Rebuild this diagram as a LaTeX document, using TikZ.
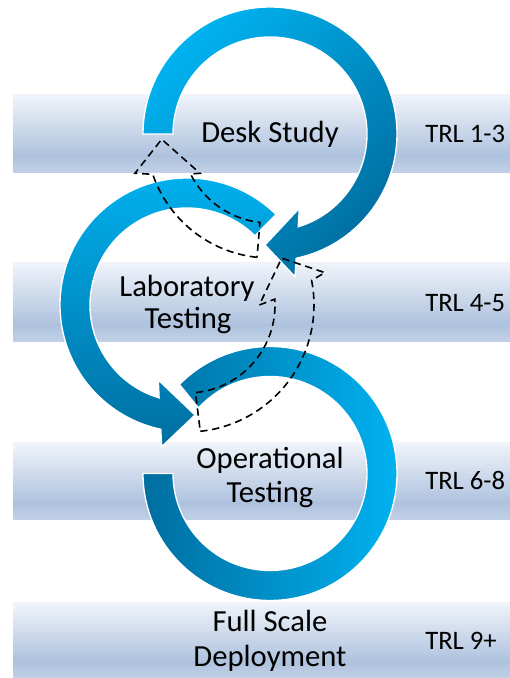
\documentclass[tikz,border=0pt]{standalone}
\usepackage{fontspec}
\setmainfont{Carlito}
\usetikzlibrary{calc}
\definecolor{cl}{RGB}{0,178,240}
\definecolor{cd}{RGB}{0,110,160}
\definecolor{bandtop}{RGB}{240,244,250}
\definecolor{banddark}{RGB}{174,194,222}
\definecolor{bandbot}{RGB}{194,209,231}
\pgfdeclareverticalshading{bandshade}{100bp}{color(0bp)=(bandbot); color(25bp)=(bandbot); color(36bp)=(banddark); color(75bp)=(bandtop); color(100bp)=(bandtop)}
\tikzset{
  band/.style={shading=bandshade, draw=none},
  ring/.style={draw=white, line width=1pt},
  ghost/.style={draw=black, line width=1.2pt, dash pattern=on 5.5pt off 3.5pt, fill=none},
  stage/.style={font=\fontsize{23}{25}\selectfont, inner sep=0pt, anchor=base},
  trl/.style={font=\fontsize{20}{22}\selectfont, inner sep=0pt, anchor=base west}
}
\begin{document}
\begin{tikzpicture}[x=0.75pt, y=0.75pt]
\useasboundingbox (0,0) rectangle (510,678);
% bands
\shade[band] (13,505) rectangle (510,583);
\shade[band] (13,336) rectangle (510,415);
\shade[band] (13,158) rectangle (510,235);
\shade[band] (13,0) rectangle (510,75);
% centres
\coordinate (C1) at (270,544);
\coordinate (C2) at (187,373);
\coordinate (C3) at (270,204.5);
% circle 1
\shadedraw[ring, top color=cl, bottom color=cd, shading angle=45]
  ([shift={(180:127)}]C1) arc[start angle=180, end angle=-78.1, radius=127]
  -- (295,401.3) -- (265,433) -- (299.3,469.7)
  -- ([shift={(-73.1:97)}]C1) arc[start angle=-73.1, end angle=180, radius=97] -- cycle;
% circle 2
\shadedraw[ring, top color=cl, bottom color=cd]
  ([shift={(45.5:127)}]C2) arc[start angle=45.5, end angle=258.1, radius=127]
  -- (161.7,231.3) -- (195,263) -- (158.3,298)
  -- ([shift={(253.3:97)}]C2) arc[start angle=253.3, end angle=45.5, radius=97] -- cycle;
% circle 3
\shadedraw[ring, left color=cd, right color=cl]
  ([shift={(180:127)}]C3) arc[start angle=180, end angle=495.5, radius=127]
  -- ([shift={(497.5:97)}]C3) arc[start angle=497.5, end angle=180, radius=97] -- cycle;
% texts
\node[stage] (desk) at (270,535.3) {Desk Study};
\node[stage] (lab1) at (187,381) {Laboratory};
\node[stage] (lab2) at (188,349.5) {Testing};
\node[stage] (op1) at (270,209) {Operational};
\node[stage] (op2) at (270,175) {Testing};
\node[stage] (full1) at (270,46.3) {Full Scale};
\node[stage] (full2) at (270,11.3) {Deployment};
\node[trl] (trl1) at (425,535.3) {TRL 1-3};
\node[trl] (trl2) at (425,366.3) {TRL 4-5};
\node[trl] (trl3) at (425,188) {TRL 6-8};
\node[trl] (trl4) at (425,28) {TRL 9+};
% dashed return arrows
\draw[ghost]
  ([shift={(264:124)}]C1) arc[start angle=264, end angle=199, radius=124]
  -- ([shift={(196.2:140.6)}]C1) -- ([shift={(182.8:108.4)}]C1)
  -- ([shift={(209.3:80.3)}]C1) -- ([shift={(206.7:89)}]C1)
  arc[start angle=206.7, end angle=263.5, radius=89] -- cycle;
\draw[ghost]
  ([shift={(-84:127)}]C2) arc[start angle=-84, end angle=11.2, radius=127]
  -- ([shift={(13.2:141.7)}]C2) -- ([shift={(26.3:105.6)}]C2)
  -- ([shift={(0:72.3)}]C2) -- ([shift={(3.8:88)}]C2)
  arc[start angle=3.8, end angle=-84.5, radius=88] -- cycle;
\end{tikzpicture}
\end{document}
